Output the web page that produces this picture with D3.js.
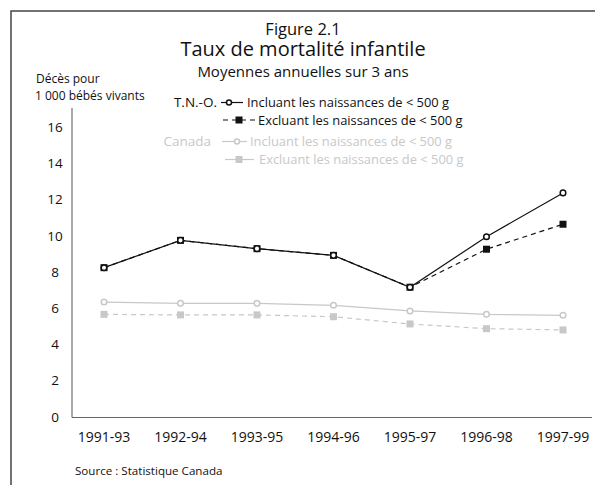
<!DOCTYPE html>
<html>
<head>
<meta charset="utf-8">
<script src="https://cdn.jsdelivr.net/npm/d3@7"></script>
<style>
  body { margin: 0; background: #fff; }
  svg text { font-family: "Open Sans", sans-serif; fill: #111; }
</style>
</head>
<body>
<div id="chart"></div>
<script>
const periods = ["1991-93", "1992-94", "1993-95", "1994-96", "1995-97", "1996-98", "1997-99"];
const tnoIncl = [8.25, 9.76, 9.30, 8.93, 7.17, 9.96, 12.38];
const tnoExcl = [8.25, 9.76, 9.30, 8.93, 7.17, 9.27, 10.65];
const canIncl = [6.35, 6.28, 6.28, 6.17, 5.86, 5.67, 5.62];
const canExcl = [5.67, 5.64, 5.64, 5.54, 5.14, 4.88, 4.81];
const yTicks = [0, 2, 4, 6, 8, 10, 12, 14, 16];

const W = 595, H = 485;
const GRAY = "#c8c8c8";

const svg = d3.select("#chart").append("svg")
  .attr("width", W)
  .attr("height", H);

// frame (top + left edges visible)
svg.append("path")
  .attr("d", "M11,485 L11,11 L595,11")
  .attr("fill", "none")
  .attr("stroke", "#444")
  .attr("stroke-width", 1.5);

const x = d3.scalePoint().domain(periods).range([104, 563]);
const y = d3.scaleLinear().domain([0, 16]).range([417, 127.4]);

// titles
svg.append("text").attr("x", 303).attr("y", 34.5).attr("text-anchor", "middle")
  .style("font-size", "16.5px").text("Figure 2.1");
svg.append("text").attr("x", 303).attr("y", 56).attr("text-anchor", "middle")
  .style("font-size", "20px").text("Taux de mortalité infantile");
svg.append("text").attr("x", 303).attr("y", 76.5).attr("text-anchor", "middle")
  .style("font-size", "15px").text("Moyennes annuelles sur 3 ans");

// y axis title
svg.append("text").attr("x", 36).attr("y", 83).style("font-size", "12px").text("Décès pour");
svg.append("text").attr("x", 35).attr("y", 100).style("font-size", "12px").text("1 000 bébés vivants");

// axes
svg.append("line").attr("x1", 72).attr("x2", 72).attr("y1", 108).attr("y2", 417.5)
  .attr("stroke", "#555").attr("stroke-width", 1);
svg.append("line").attr("x1", 72).attr("x2", 592).attr("y1", 417.5).attr("y2", 417.5)
  .attr("stroke", "#666").attr("stroke-width", 1);

svg.append("g").selectAll("text")
  .data(yTicks)
  .enter()
  .append("text")
  .attr("x", 55)
  .attr("y", d => y(d) + 4.5)
  .attr("text-anchor", "middle")
  .style("font-size", "13.5px")
  .text(d => d);

svg.append("g").selectAll("text")
  .data(periods)
  .enter()
  .append("text")
  .attr("x", d => x(d))
  .attr("y", 441.5)
  .attr("text-anchor", "middle")
  .style("font-size", "14px")
  .text(d => d);

svg.append("text").attr("x", 75).attr("y", 474.5).style("font-size", "11.6px")
  .text("Source : Statistique Canada");

// series
const line = d3.line().x((d, i) => x(periods[i])).y(d => y(d));

function drawSeries(vals, color, dash, marker) {
  const g = svg.append("g");
  g.append("path")
    .datum(vals)
    .attr("d", line)
    .attr("fill", "none")
    .attr("stroke", color)
    .attr("stroke-width", 1.2)
    .attr("stroke-dasharray", dash);
  if (marker === "square") {
    g.selectAll("rect").data(vals).enter().append("rect")
      .attr("x", (d, i) => x(periods[i]) - 3.5)
      .attr("y", d => y(d) - 3.5)
      .attr("width", 7).attr("height", 7)
      .attr("fill", color);
  } else {
    g.selectAll("circle").data(vals).enter().append("circle")
      .attr("cx", (d, i) => x(periods[i]))
      .attr("cy", d => y(d))
      .attr("r", 2.8)
      .attr("fill", "#fff")
      .attr("stroke", color)
      .attr("stroke-width", 1.5);
  }
}

drawSeries(canExcl, GRAY, "5,4", "square");
drawSeries(canIncl, GRAY, null, "circle");
drawSeries(tnoExcl, "#111", "5,4", "square");
drawSeries(tnoIncl, "#111", null, "circle");

// legend
function legendRow(x1, x2, mx, yy, color, dash, marker, label, tx) {
  svg.append("line").attr("x1", x1).attr("x2", x2).attr("y1", yy).attr("y2", yy)
    .attr("stroke", color).attr("stroke-width", 1.2).attr("stroke-dasharray", dash);
  if (marker === "square") {
    svg.append("rect").attr("x", mx - 3.5).attr("y", yy - 3.5).attr("width", 7).attr("height", 7)
      .attr("fill", color);
  } else {
    svg.append("circle").attr("cx", mx).attr("cy", yy).attr("r", 2.5)
      .attr("fill", "#fff").attr("stroke", color).attr("stroke-width", 1.5);
  }
  svg.append("text").attr("x", tx).attr("y", yy + 4.5)
    .style("font-size", "12.9px").style("fill", color === GRAY ? GRAY : "#111")
    .text(label);
}

svg.append("text").attr("x", 217).attr("y", 107).attr("text-anchor", "end")
  .style("font-size", "13.5px").text("T.N.-O.");
svg.append("text").attr("x", 211).attr("y", 146).attr("text-anchor", "end")
  .style("font-size", "13.5px").style("fill", GRAY).text("Canada");

legendRow(221, 243, 229, 102.5, "#111", null, "circle", "Incluant les naissances de < 500 g", 247);
legendRow(223, 256, 239, 120, "#111", "5,4", "square", "Excluant les naissances de < 500 g", 258);
legendRow(222, 247, 237, 141.5, GRAY, null, "circle", "Incluant les naissances de < 500 g", 250);
legendRow(225, 254, 239, 159.5, GRAY, null, "square", "Excluant les naissances de < 500 g", 259);
</script>
</body>
</html>
